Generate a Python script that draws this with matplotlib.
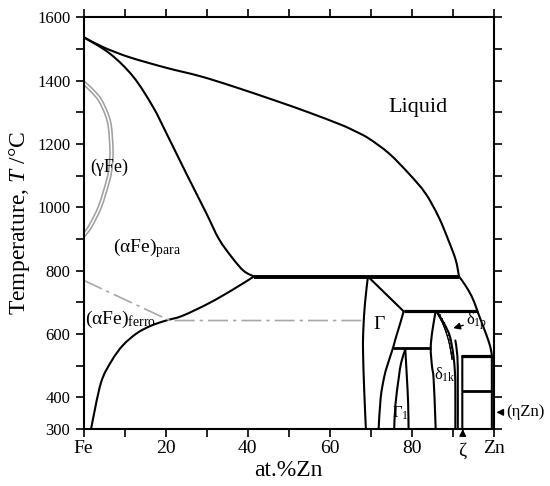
import matplotlib
matplotlib.use("Agg")
import matplotlib.pyplot as plt
import matplotlib.patheffects as pe
from matplotlib.path import Path
from matplotlib.patches import PathPatch

plt.rcParams['font.family'] = ['Liberation Serif', 'DejaVu Serif']
plt.rcParams['mathtext.fontset'] = 'custom'
plt.rcParams['mathtext.rm'] = 'Liberation Serif'
plt.rcParams['mathtext.it'] = 'Liberation Serif:italic'

# liquidus (three branches, kinks at 782 and 672)
liq1_x = [0, 5, 11.3, 20.2, 28.3, 36.3, 46.4, 54.5, 62.6, 66.0, 69.5, 74.4, 79.2, 83.3, 86.5, 88.9, 90.7, 91.5]
liq1_T = [1538, 1505, 1474, 1441, 1415, 1383, 1339, 1302, 1262, 1242, 1218, 1171, 1108, 1045, 971, 897, 834, 782]
liq2_x = [91.5, 93.0, 94.6, 95.6, 96.0]
liq2_T = [782, 755, 719, 687, 672]
liq3_x = [96.0, 97.4, 98.6, 99.3, 99.5]
liq3_T = [672, 624, 582, 550, 530]
# (aFe) solidus
sol_x = [0, 6.4, 12.1, 16.9, 20.2, 25.0, 29.9, 33.0, 36.3, 39.0, 41.5]
sol_T = [1538, 1486, 1413, 1318, 1234, 1108, 982, 900, 840, 800, 782]
# (aFe) solvus
solv_x = [41.5, 36.3, 30.6, 24.1, 20.1, 16.5, 13.0, 9.6, 6.8, 4.2, 1.8]
solv_T = [782, 740, 698, 658, 643, 627, 603, 565, 515, 445, 300]
# magnetic transition
curie_x = [0, 21.0, 67.9]
curie_T = [770, 643, 643]
# gamma loop
gam_x = [0, 2.0, 4.0, 5.6, 6.4, 6.8, 6.6, 6.0, 4.0, 1.6, 0]
gam_T = [1394, 1370, 1339, 1295, 1255, 1181, 1130, 1087, 1003, 940, 912]

# Gamma phase
G_left_x = [69.3, 68.6, 68.2, 68.1, 68.4, 68.8]
G_left_T = [782, 700, 620, 550, 420, 300]
G_top_x = [69.3, 78.0]
G_top_T = [782, 672]
G_right_x = [78.0, 77.3, 76.6, 75.9, 75.4, 74.0, 73.2, 72.4, 71.9]
G_right_T = [672, 640, 610, 580, 556, 500, 461, 398, 300]
G1_left_x = [78.4, 77.4, 76.8, 76.0, 75.7]
G1_left_T = [552, 510, 461, 377, 300]
G1_right_x = [78.4, 78.8, 79.1, 79.2]
G1_right_T = [552, 461, 380, 300]
# delta phase
d_left_x = [85.8, 85.0, 84.6, 84.9, 85.3, 85.7, 85.8]
d_left_T = [672, 610, 556, 500, 460, 340, 300]
d_hatch_x = [85.9, 87.3, 88.5, 89.3, 89.8]
d_hatch_T = [672, 640, 600, 560, 520]
d_right_x = [86.1, 88.0, 89.3, 90.1, 90.5, 90.6, 90.6]
d_right_T = [672, 630, 592, 535, 480, 424, 300]
# zeta phase
z_left_x = [90.6, 91.1, 91.2, 91.2]
z_left_T = [580, 530, 450, 300]
z_right_x = [92.3, 92.3]
z_right_T = [530, 300]
zn_side_x = [99.5, 99.5]
zn_side_T = [530, 300]

# invariant lines
inv_T = [782, 672, 556, 530, 419]
inv_x0 = [41.5, 78.0, 75.4, 92.0, 92.3]
inv_x1 = [91.5, 96.0, 84.6, 99.5, 99.5]
inv_lw = [2.8, 2.3, 2.0, 2.3, 2.0]


def curve(ax, xs, ys, **kw):
    # smooth curve through the read points (Catmull-Rom drawn as cubic Bezier)
    pts = list(zip(xs, ys))
    n = len(pts)
    verts = [pts[0]]
    codes = [Path.MOVETO]
    for i in range(n - 1):
        p0 = pts[i - 1] if i > 0 else pts[i]
        p1, p2 = pts[i], pts[i + 1]
        p3 = pts[i + 2] if i + 2 < n else pts[i + 1]
        c1 = (p1[0] + (p2[0] - p0[0]) / 6, p1[1] + (p2[1] - p0[1]) / 6)
        c2 = (p2[0] - (p3[0] - p1[0]) / 6, p2[1] - (p3[1] - p1[1]) / 6)
        verts += [c1, c2, p2]
        codes += [Path.CURVE4] * 3
    ax.add_patch(PathPatch(Path(verts, codes), fill=False, capstyle='round', **kw))


fig = plt.figure(figsize=(5.5, 4.86), dpi=100)
ax = fig.add_axes([0.152, 0.117, 0.746, 0.847])

k = dict(edgecolor='black', lw=1.5)
for xs, ts in [(liq1_x, liq1_T), (liq2_x, liq2_T), (liq3_x, liq3_T), (sol_x, sol_T), (solv_x, solv_T),
               (G_left_x, G_left_T), (G_top_x, G_top_T), (G_right_x, G_right_T),
               (G1_left_x, G1_left_T), (G1_right_x, G1_right_T), (d_left_x, d_left_T),
               (d_right_x, d_right_T), (z_left_x, z_left_T), (z_right_x, z_right_T),
               (zn_side_x, zn_side_T)]:
    curve(ax, xs, ts, **k)
ax.plot(curie_x, curie_T, color='#a8a8a8', lw=1.2, dashes=(12, 3, 2, 3))
curve(ax, gam_x, gam_T, edgecolor='#a0a0a0', lw=3.4)
curve(ax, gam_x, gam_T, edgecolor='white', lw=1.1)
curve(ax, d_hatch_x, d_hatch_T, edgecolor='black', lw=0.8,
      path_effects=[pe.withTickedStroke(angle=120, spacing=3, length=0.6), pe.Normal()])
for T, x0, x1, w in zip(inv_T, inv_x0, inv_x1, inv_lw):
    ax.plot([x0, x1], [T, T], color='black', lw=w, solid_capstyle='butt')

ax.set_xlim(0, 100)
ax.set_ylim(300, 1600)
ax.set_xticks(range(0, 101, 10))
ax.set_xticklabels(['Fe', '', '20', '', '40', '', '60', '', '80', '', 'Zn'], fontsize=14)
yt = list(range(300, 1601, 100))
ax.set_yticks(yt)
ax.set_yticklabels([str(t) if t in (300, 400, 600, 800, 1000, 1200, 1400, 1600) else '' for t in yt],
                   fontsize=12)
ax.tick_params(top=True, right=True, direction='out', length=6, width=1.2)
ax.tick_params(axis='x', pad=2)
for s in ax.spines.values():
    s.set_linewidth(1.5)

ax.set_xlabel('at.%Zn', fontsize=17, labelpad=2)
ax.set_ylabel('Temperature, $\\it{T}$ /°C', fontsize=17, labelpad=4)

ax.text(81.5, 1317, 'Liquid', fontsize=16, ha='center', va='center')
ax.text(6.2, 1128, '(γFe)', fontsize=13, ha='center', va='center')
ax.text(7.2, 872, '(αFe)$_{\\rm para}$', fontsize=14, ha='left', va='center')
ax.text(0.3, 646, '(αFe)$_{\\rm ferro}$', fontsize=14, ha='left', va='center')
ax.text(72.0, 630, 'Γ', fontsize=14, ha='center', va='center')
ax.text(77.2, 351, 'Γ$_{\\rm 1}$', fontsize=12, ha='center', va='center')
ax.text(88.0, 472, 'δ$_{\\rm 1k}$', fontsize=12, ha='center', va='center')
ax.annotate('δ$_{\\rm 1p}$', xy=(90.1, 619), xytext=(93.2, 640), fontsize=12, ha='left', va='center',
            arrowprops=dict(arrowstyle='-|>', color='black', lw=1, mutation_scale=10, shrinkA=0, shrinkB=0))
ax.annotate('ζ', xy=(92.4, 300), xytext=(92.4, 230), fontsize=14, ha='center', va='center',
            annotation_clip=False,
            arrowprops=dict(arrowstyle='-|>', color='black', lw=1, mutation_scale=10, shrinkA=6, shrinkB=0))
ax.annotate('(ηZn)', xy=(100.6, 353), xytext=(103.0, 353), fontsize=12, ha='left', va='center',
            annotation_clip=False,
            arrowprops=dict(arrowstyle='-|>', color='black', lw=1, mutation_scale=10, shrinkA=0, shrinkB=0))

fig.savefig('out.png', dpi=100)
